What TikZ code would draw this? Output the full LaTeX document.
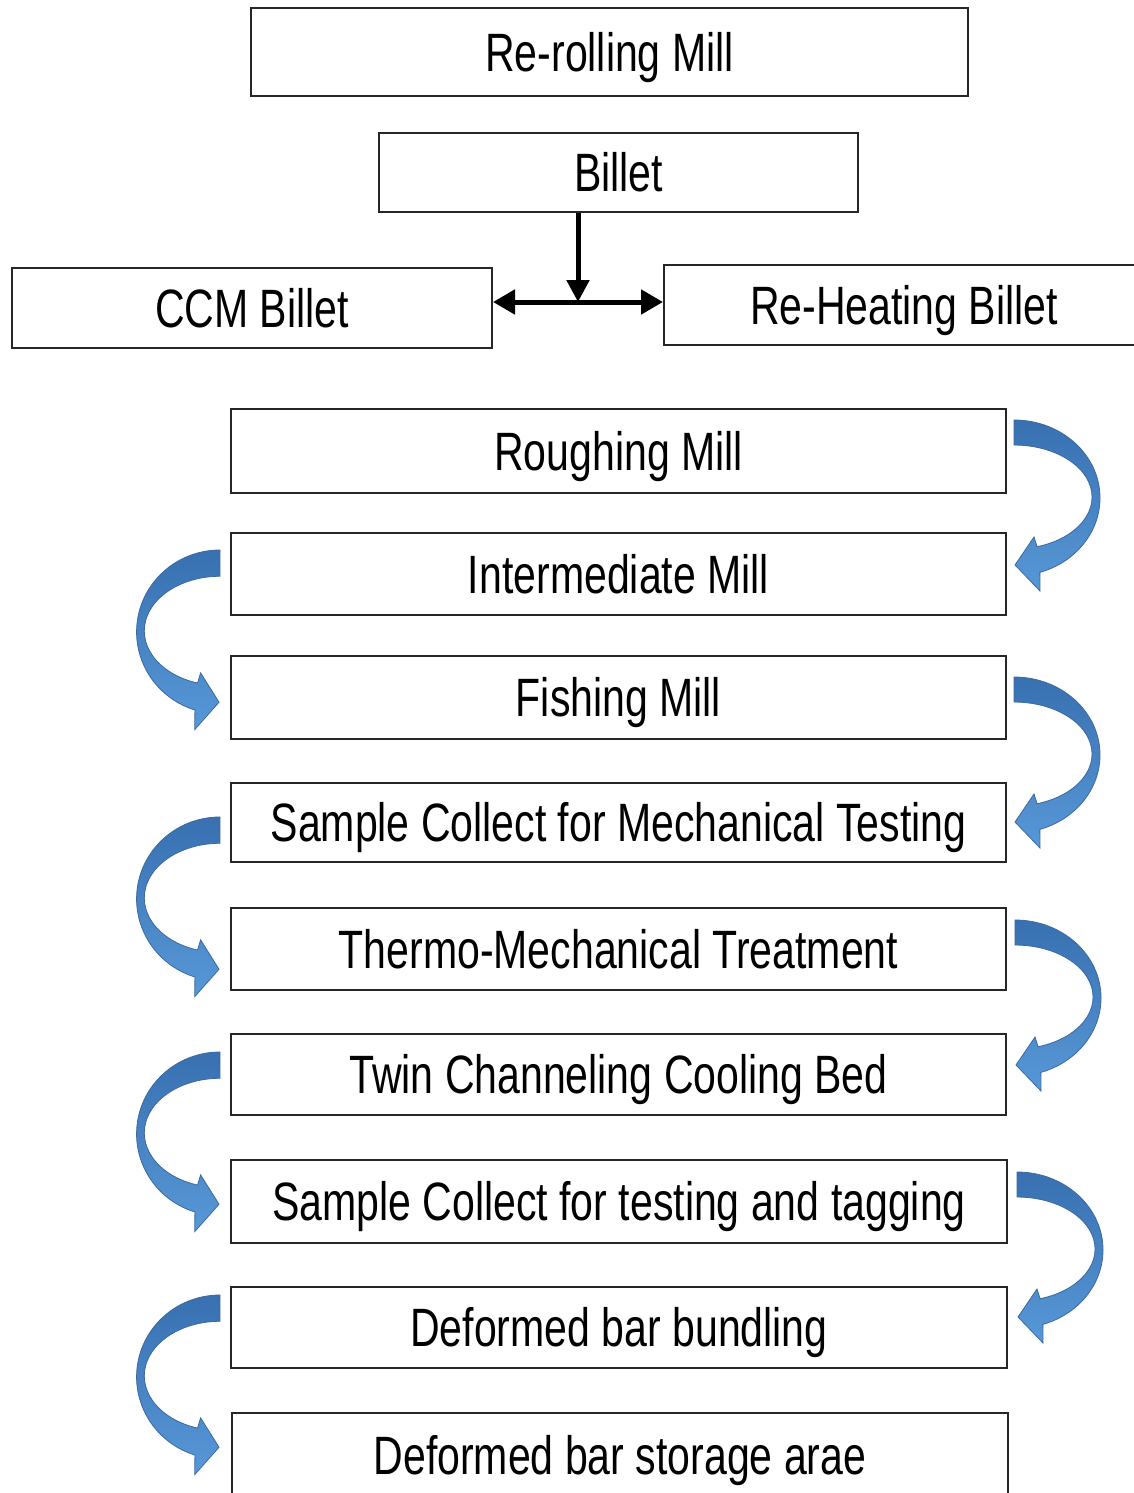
\documentclass[tikz,border=0pt]{standalone}
\usepackage{fontspec}
\setmainfont{Liberation Sans}[FakeStretch=0.76]
\usetikzlibrary{arrows.meta}
\definecolor{arrtop}{RGB}{56,112,176}
\definecolor{arrbot}{RGB}{88,152,216}
\definecolor{arredge}{RGB}{60,105,160}
\tikzset{
  box/.style={draw=black!85, line width=2pt, inner sep=0pt, text height=38.7pt, text depth=0pt,
    font=\fontsize{54}{62}\selectfont},
  wide/.style={box, minimum width=775},
  blk/.style={line width=5pt, black},
  arrowfill/.style={top color=arrtop, bottom color=arrbot, draw=arredge, line width=0.8pt}
}
\newcommand\rarr[2]{%
  \shade[arrowfill, shift={(#1,-#2)}] (0,0) arc[start angle=90,end angle=-72.5,x radius=86,y radius=78]
    -- (26,-171) -- (1,-145) -- (20,-117) -- (23.1,-126.7)
    arc[start angle=-72.8,end angle=90,x radius=78,y radius=52] -- cycle;}
\newcommand\larr[2]{%
  \shade[arrowfill, shift={(#1,-#2)}, xscale=-0.97, yscale=1.05] (0,0) arc[start angle=90,end angle=-72.5,x radius=86,y radius=78]
    -- (26,-171) -- (1,-145) -- (20,-117) -- (23.1,-126.7)
    arc[start angle=-72.8,end angle=90,x radius=78,y radius=52] -- cycle;}
\begin{document}
\begin{tikzpicture}[x=1pt,y=1pt]
\clip (0,0) rectangle (1134,-1493);
\fill[white] (0,0) rectangle (1134,-1493);

\node[box, minimum width=717, minimum height=88] (rr) at (609.5,-52) {Re-rolling Mill};
\node[box, minimum width=479, minimum height=79] (billet) at (618.5,-172.5) {Billet};
\node[box, minimum width=480, minimum height=80] (ccm) at (252,-308) {CCM Billet};
\node[box, minimum width=480, minimum height=80] (reheat) at (904,-305) {Re-Heating Billet};

\coordinate (j) at (578,-302);
\draw[blk, -{Triangle[length=22pt,width=22pt]}] (j |- billet.south) -- (j);
\draw[blk, {Triangle[length=22pt,width=24pt]}-{Triangle[length=22pt,width=24pt]}] (j -| ccm.east) -- (j -| reheat.west);

\node[wide, minimum height=84] (n1) at (618.5,-451) {Roughing Mill};
\node[wide, minimum height=82] (n2) at (618.5,-574) {Intermediate Mill};
\node[wide, minimum height=83] (n3) at (618.5,-697.5) {Fishing Mill};
\node[wide, minimum height=79] (n4) at (618.5,-822.5) {Sample Collect for Mechanical Testing};
\node[wide, minimum height=82] (n5) at (618.5,-949) {Thermo-Mechanical Treatment};
\node[wide, minimum height=81] (n6) at (618.5,-1074.5) {Twin Channeling Cooling Bed};
\node[wide, minimum height=83, minimum width=776] (n7) at (619,-1201.5) {Sample Collect for testing and tagging};
\node[wide, minimum height=81, minimum width=776] (n8) at (619,-1327.5) {Deformed bar bundling};
\node[wide, minimum height=84, minimum width=776] (n9) at (620,-1455) {Deformed bar storage arae};

\rarr{1014}{420}
\rarr{1014}{677}
\rarr{1015}{920}
\rarr{1017}{1172}
\larr{220}{550}
\larr{220}{817}
\larr{220}{1052}
\larr{220}{1295}
\end{tikzpicture}
\end{document}
